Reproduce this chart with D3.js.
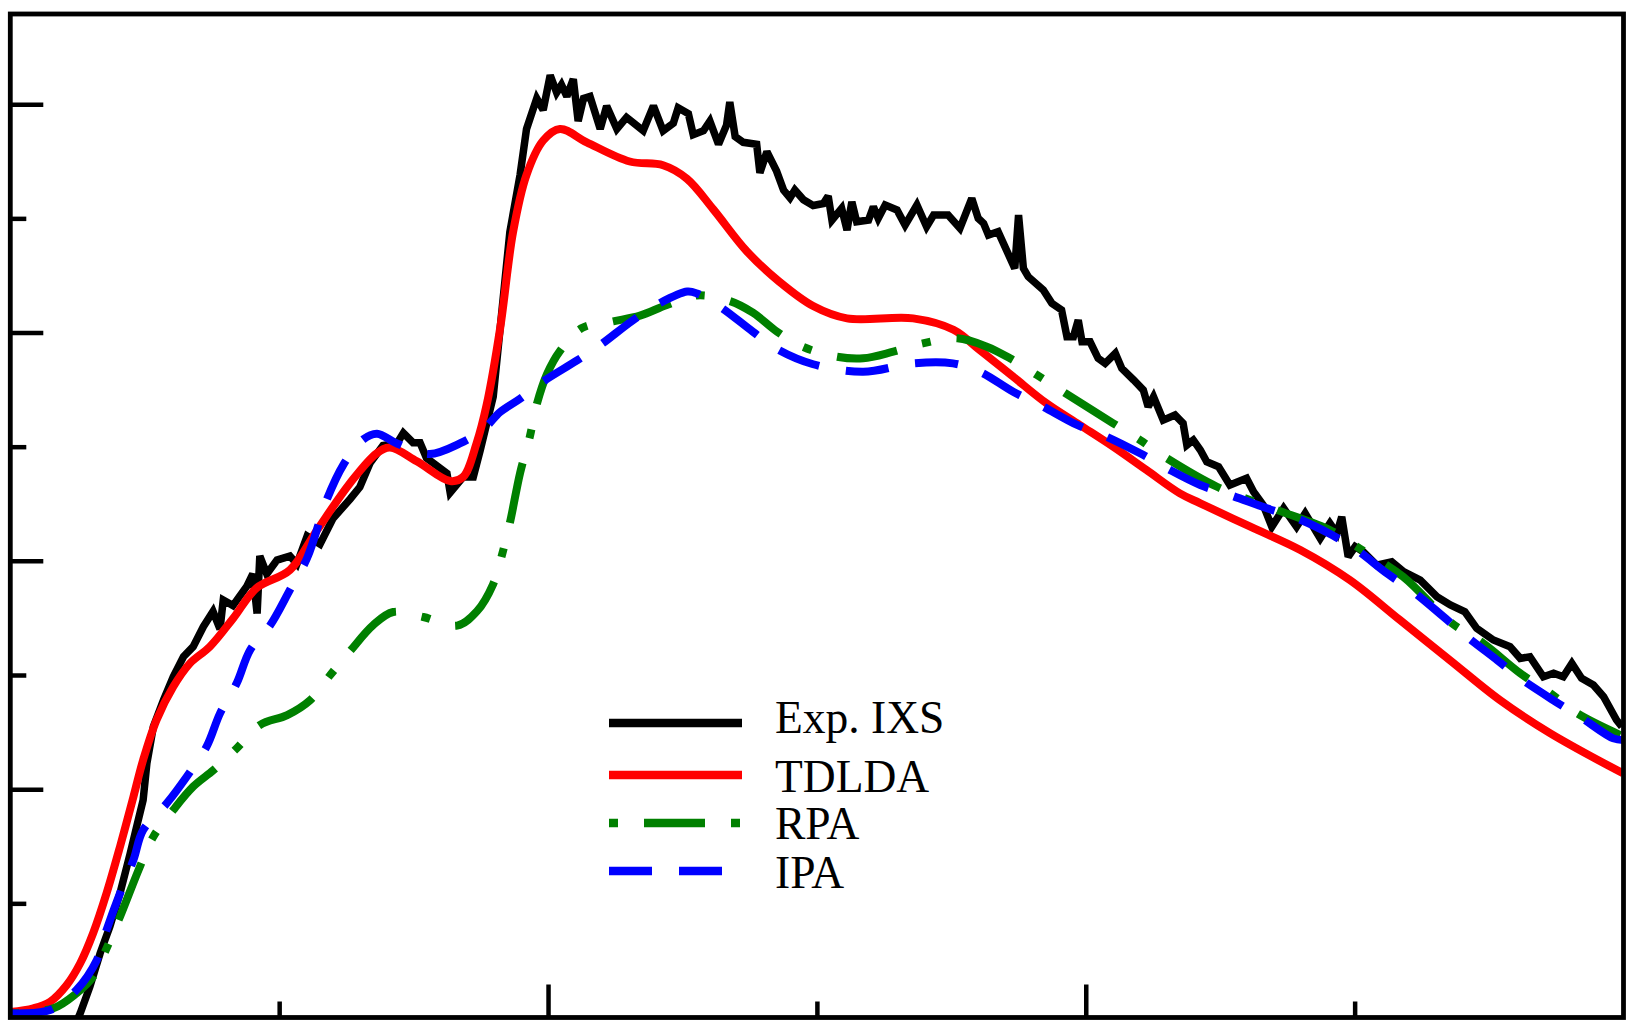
<!DOCTYPE html>
<html>
<head>
<meta charset="utf-8">
<script src="https://cdn.jsdelivr.net/npm/d3@7"></script>
<style>
  html, body { margin: 0; padding: 0; background: #fff; }
  svg { display: block; }
</style>
</head>
<body>
<svg id="chart" width="1631" height="1023"></svg>
<script>
// ---------------- DATA ----------------
const seriesNames = ["Exp. IXS", "TDLDA", "RPA", "IPA"];
const seriesColors = ["#000000", "#ff0000", "#008000", "#0000ff"];

const xMajorTicks = [10, 20];
const xMinorTicks = [5, 15, 25];
const yMajorTicks = [2, 4, 6, 8];
const yMinorTicks = [1, 3, 5, 7];

const expIXS = [
[1.22,-0.05],[1.30,0.037],[1.48,0.270],[1.67,0.562],[1.85,0.795],[2.04,1.088],[2.23,1.438],[2.35,1.671],
[2.47,1.905],[2.54,2.227],[2.66,2.547],[2.85,2.781],[3.03,2.985],[3.22,3.160],[3.40,3.248],[3.59,3.423],
[3.77,3.556],[3.90,3.403],
[3.96,3.657],[4.14,3.608],[4.40,3.779],[4.51,3.885],[4.59,3.539],[4.64,4.042],[4.77,3.885],[4.96,4.007],
[5.20,4.042],[5.33,3.972],[5.52,4.217],[5.76,4.147],[6.00,4.370],[6.32,4.542],[6.50,4.647],[6.69,4.857],
[6.93,5.010],[7.19,5.028],[7.31,5.120],[7.49,5.035],[7.62,5.035],[7.74,4.901],[8.12,4.767],[8.18,4.598],
[8.42,4.734],[8.61,4.734],[8.74,4.971],[8.98,5.437],[9.11,6.039],[9.29,6.880],[9.48,7.381],[9.60,7.783],
[9.79,8.051],[9.91,7.950],[10.04,8.253],[10.16,8.102],[10.25,8.169],[10.35,8.068],[10.47,8.220],[10.56,7.852],
[10.66,8.051],[10.78,8.068],[10.97,7.783],[11.09,7.984],[11.28,7.783],[11.46,7.884],[11.77,7.767],[11.96,7.985],
[12.14,7.767],[12.33,7.834],[12.42,7.968],[12.61,7.917],[12.70,7.733],[12.89,7.767],[13.01,7.851],[13.17,7.649],
[13.32,7.817],[13.38,8.019],[13.48,7.716],[13.63,7.666],[13.88,7.649],[13.94,7.398],[14.07,7.583],[14.25,7.414],
[14.38,7.248],[14.50,7.180],[14.59,7.248],[14.75,7.163],[14.93,7.113],[15.12,7.130],[15.21,7.196],[15.28,6.985],
[15.46,7.088],[15.56,6.898],[15.65,7.145],[15.74,6.970],[15.96,6.985],[16.05,7.102],[16.14,7.000],[16.27,7.117],
[16.49,7.073],[16.64,6.941],[16.86,7.117],[17.04,6.927],[17.17,7.029],[17.44,7.029],[17.66,6.913],[17.88,7.175],
[18.00,7.000],[18.10,6.956],[18.19,6.854],[18.37,6.883],[18.68,6.562],[18.75,7.029],[18.84,6.562],[18.93,6.489],
[19.21,6.372],[19.37,6.256],[19.55,6.197],[19.65,5.963],[19.77,5.963],[19.86,6.109],[19.93,5.919],[20.08,5.919],
[20.23,5.774],[20.36,5.730],[20.55,5.818],[20.67,5.686],[20.89,5.584],[21.07,5.496],[21.16,5.350],[21.26,5.438],
[21.44,5.233],[21.66,5.277],[21.81,5.205],[21.88,5.014],[22.00,5.058],[22.13,4.971],[22.25,4.868],[22.47,4.824],
[22.68,4.664],[22.99,4.723],[23.12,4.605],[23.30,4.489],[23.46,4.299],[23.68,4.460],[23.92,4.299],[24.08,4.416],
[24.36,4.197],[24.54,4.329],[24.67,4.241],[24.76,4.386],[24.88,4.036],[25.01,4.124],[25.16,4.080],[25.41,3.963],
[25.69,3.992],[25.91,3.905],[26.22,3.832],[26.53,3.686],[26.78,3.613],[27.05,3.554],[27.27,3.409],[27.58,3.307],
[27.89,3.248],[28.08,3.146],[28.26,3.160],[28.51,2.985],[28.70,3.015],[28.88,2.985],[29.04,3.102],[29.22,2.971],
[29.44,2.912],[29.63,2.810],[29.87,2.606],[29.97,2.547]
];

const tdlda = [
[0.00,0.048],[0.43,0.081],[0.74,0.138],[1.05,0.285],[1.30,0.475],[1.54,0.738],[1.79,1.088],[2.04,1.496],
[2.29,1.934],[2.47,2.255],[2.72,2.606],[3.03,2.897],[3.34,3.102],[3.71,3.248],[4.15,3.500],[4.58,3.762],
[5.20,3.920],[5.70,4.266],[6.32,4.682],
[6.81,4.941],[7.06,4.993],[7.56,4.872],[8.18,4.699],[8.42,4.734],[8.67,5.028],[8.86,5.370],[9.11,6.039],
[9.35,6.880],[9.60,7.381],[9.91,7.682],[10.22,7.783],[10.72,7.666],[11.52,7.498],[12.14,7.465],[12.58,7.348],
[13.07,7.081],[13.70,6.710],[14.31,6.442],[14.93,6.232],[15.56,6.124],[16.79,6.124],[17.54,6.024],[18.03,5.846],
[18.65,5.613],[19.27,5.380],[19.89,5.190],[20.51,5.000],[21.13,4.795],[21.75,4.591],[22.13,4.504],[23.06,4.299],
[23.99,4.095],[24.91,3.832],[25.84,3.482],[26.77,3.131],[27.70,2.781],[28.64,2.489],[29.99,2.139]
];

const rpa = [
[0.00,0.037],[0.80,0.081],[1.23,0.212],[1.54,0.358],[1.79,0.606],[2.04,0.883],[2.41,1.321],[2.66,1.584],
[3.03,1.818],[3.40,2.022],[3.78,2.168],[4.21,2.358],[4.64,2.562],[5.15,2.649],[5.57,2.777],
[5.95,3.000],[6.32,3.210],[6.75,3.438],[7.12,3.552],[7.68,3.508],[8.31,3.433],[8.68,3.560],[8.98,3.797],
[9.14,4.046],[9.29,4.331],[9.48,4.769],[9.66,5.085],[9.79,5.370],[9.98,5.636],[10.22,5.838],[10.63,6.039],
[11.21,6.097],[11.71,6.148],[12.21,6.241],[12.77,6.325],[13.38,6.276],[13.81,6.174],[14.26,6.007],[14.74,5.875],
[15.37,5.788],[15.86,5.774],[16.42,5.832],[16.97,5.905],[17.61,5.949],[18.16,5.876],[18.59,5.774],[19.09,5.628],
[19.58,5.481],[20.51,5.205],[21.01,5.058],[21.51,4.898],[22.44,4.649],[23.56,4.445],[24.54,4.270],[25.04,4.124],
[25.90,3.861],[26.77,3.467],[27.39,3.278],[28.08,3.015],[28.64,2.840],[29.14,2.664],[29.94,2.474]
];

const ipa = [
[0.00,0.037],[0.74,0.066],[1.23,0.241],[1.61,0.504],[1.79,0.766],[2.04,1.088],[2.29,1.380],[2.47,1.642],
[2.91,1.876],[3.28,2.109],[3.65,2.372],[3.90,2.664],[4.21,2.927],[4.46,3.219],[4.83,3.434],[5.20,3.746],[5.52,4.025],
[5.89,4.541],[6.19,4.839],[6.56,5.063],[6.82,5.114],[7.19,5.028],[7.80,4.936],[8.36,5.028],[8.79,5.148],
[9.11,5.304],[9.48,5.420],[9.91,5.571],[10.54,5.755],[10.97,5.890],[11.58,6.108],[12.08,6.258],[12.59,6.359],
[12.77,6.342],[13.20,6.225],[13.81,6.007],[14.26,5.855],[14.93,5.722],[15.86,5.656],[16.79,5.730],[17.53,5.730],
[18.03,5.656],[18.65,5.481],[19.15,5.365],[19.84,5.190],[20.32,5.102],[21.01,4.942],[21.51,4.810],[22.13,4.664],
[22.68,4.577],[23.37,4.460],[23.93,4.372],[24.58,4.226],[25.04,4.095],[25.60,3.891],[26.09,3.730],[26.65,3.511],
[27.09,3.335],[27.65,3.131],[28.08,2.971],[28.69,2.781],[29.19,2.635],[29.81,2.445],[29.99,2.431]
];

// ---------------- LAYOUT ----------------
const W = 1631, H = 1023;
const plotL = 10.3, plotR = 1623.5, plotT = 14, plotB = 1017.5;

const x = d3.scaleLinear().domain([0, 30]).range([plotL, plotR]);
const y = d3.scaleLinear().domain([0, 8.79]).range([plotB, plotT]);

const svg = d3.select("#chart");
svg.append("rect").attr("width", W).attr("height", H).attr("fill", "#fff");

svg.append("defs").append("clipPath").attr("id", "plotclip")
  .append("rect").attr("x", plotL).attr("y", plotT)
  .attr("width", plotR - plotL).attr("height", plotB - plotT);

const plot = svg.append("g").attr("clip-path", "url(#plotclip)");

const smooth = d3.line().x(d => x(d[0])).y(d => y(d[1])).curve(d3.curveCatmullRom.alpha(0.5));
const raw = d3.line().x(d => x(d[0])).y(d => y(d[1])).curve(d3.curveLinear);

const seriesData = [expIXS, tdlda, rpa, ipa];
const dashes = [null, null, "9,26,61,26", "43,27"];
const SW = 8;

seriesData.forEach((data, i) => {
  plot.append("path")
    .datum(data)
    .attr("d", i === 0 ? raw : smooth)
    .attr("fill", "none")
    .attr("stroke", seriesColors[i])
    .attr("stroke-width", i === 0 ? 7.5 : SW)
    .attr("stroke-linejoin", i === 0 ? "miter" : "round")
    .attr("stroke-miterlimit", 2.5)
    .attr("stroke-linecap", "butt")
    .attr("stroke-dasharray", dashes[i]);
});

// ---------------- AXES (inward ticks) ----------------
function styleAxis(g) {
  g.select(".domain").remove();
  g.selectAll(".tick line").attr("stroke", "#000").attr("stroke-width", 4.5);
  g.selectAll("text").remove();
}
svg.append("g").attr("transform", `translate(0,${plotB})`)
  .call(d3.axisBottom(x).tickValues(xMajorTicks).tickSize(-33).tickFormat("")).call(styleAxis);
svg.append("g").attr("transform", `translate(0,${plotB})`)
  .call(d3.axisBottom(x).tickValues(xMinorTicks).tickSize(-16).tickFormat("")).call(styleAxis);
svg.append("g").attr("transform", `translate(${plotL},0)`)
  .call(d3.axisLeft(y).tickValues(yMajorTicks).tickSize(-33).tickFormat("")).call(styleAxis);
svg.append("g").attr("transform", `translate(${plotL},0)`)
  .call(d3.axisLeft(y).tickValues(yMinorTicks).tickSize(-16).tickFormat("")).call(styleAxis);

// frame
svg.append("rect")
  .attr("x", plotL).attr("y", plotT)
  .attr("width", plotR - plotL).attr("height", plotB - plotT)
  .attr("fill", "none").attr("stroke", "#000").attr("stroke-width", 4.8);

// ---------------- LEGEND ----------------
const legLineY = [723, 775, 823, 871];
const legTextY = [733, 792, 839, 888];
const legend = svg.append("g");
seriesNames.forEach((name, i) => {
  legend.append("line")
    .attr("x1", 609).attr("x2", 742)
    .attr("y1", legLineY[i]).attr("y2", legLineY[i])
    .attr("stroke", seriesColors[i]).attr("stroke-width", 8.5)
    .attr("stroke-dasharray", dashes[i]);
  legend.append("text")
    .attr("x", 775).attr("y", legTextY[i])
    .attr("font-family", "'Liberation Serif', 'Times New Roman', serif")
    .attr("font-size", 45.5)
    .attr("fill", "#000")
    .text(name);
});
</script>
</body>
</html>
